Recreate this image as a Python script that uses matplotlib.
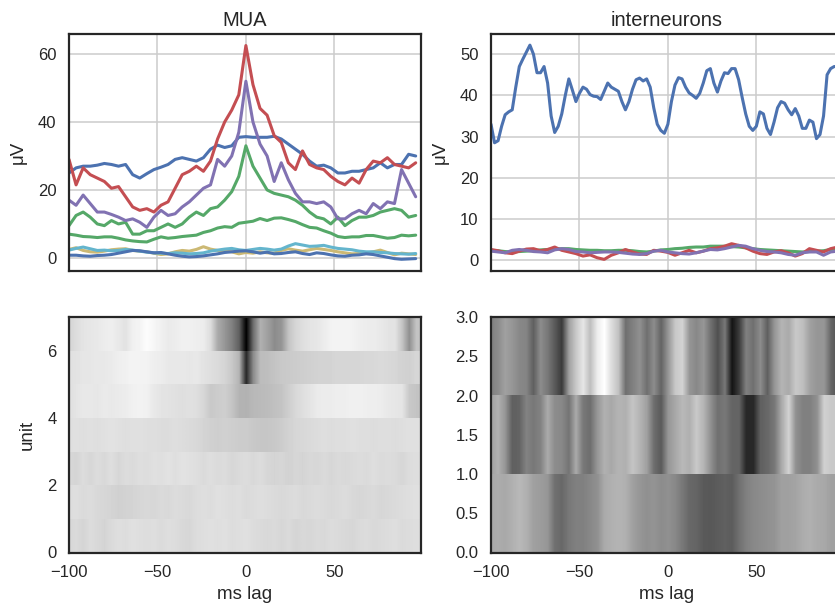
import numpy as np
import matplotlib
matplotlib.use("Agg")
import matplotlib.pyplot as plt

plt.rcParams["font.family"] = ["Liberation Sans", "DejaVu Sans"]

# ---------------------------------------------------------------- data
lag_ms = np.arange(-100, 100, 4)        # 4 ms lag bins
lag_ms_fine = np.arange(-100, 100, 2)   # 2 ms lag bins

# MUA channels, cross-correlogram amplitude (uV)
mua_ch0 = [25, 26.5, 27, 27, 27.3, 27.8, 27.5, 27, 27.5, 24.5, 23.5, 24.8, 26, 26.7,
           27.5, 29, 29.5, 29, 28.5, 29.5, 32, 33.2, 32.5, 33, 35.5, 35.7, 35.5, 35.5,
           35.5, 35.8, 35, 33.5, 32, 30.5, 28.5, 27, 27.3, 26.5, 25, 25, 25.5, 25.5, 26,
           26.5, 28, 26.5, 27.5, 27.5, 30.5, 30]
mua_ch1 = [9.5, 12.5, 13.5, 12, 10, 9.5, 11, 10, 10.5, 7, 7, 8, 8, 9, 10, 9, 10, 12,
           13.5, 12.5, 14.5, 15, 17, 19.5, 24, 33, 27, 23.5, 20, 19, 18.5, 18, 17, 15.5,
           13.5, 12, 11.5, 10, 12, 9.5, 11, 12, 12, 12.5, 13.5, 14, 14.5, 14, 12, 12.5]
mua_ch2 = [29, 21.5, 26.5, 24.5, 23.5, 22.5, 20.5, 21, 18, 15, 14, 14.5, 13.5, 15.5,
           16.5, 20.5, 24.5, 25.5, 27, 25.5, 28.5, 35, 40, 43.5, 48, 62.5, 51, 44, 42,
           36, 34, 28, 26, 31.5, 27.5, 26.5, 26, 24, 22.5, 21.5, 23.5, 22, 26, 28.5, 28,
           29.5, 27.5, 27, 26.5, 28]
mua_ch3 = [17, 15.5, 18.5, 16, 13.5, 13.5, 12.8, 12, 11, 11.5, 10.5, 9, 12, 14, 12.5,
           13, 15, 16.5, 18.5, 20.5, 21.5, 29, 27, 30, 37, 52, 40, 33.5, 30, 22.5, 28,
           23, 19, 16.5, 16.5, 16, 16.5, 15, 11.5, 11.5, 13, 14, 13, 16, 14.5, 16.5, 16,
           26, 22, 18]
mua_ch4 = [2.5, 3, 2.2, 1.8, 1.7, 2, 2.4, 2.6, 2.7, 2.2, 2, 1.8, 1.4, 1, 1.2, 1.8, 2.2,
           2, 2.5, 3.3, 2.6, 2.2, 2, 1.8, 1.2, 1.6, 1.4, 1.8, 1.5, 1.4, 2.2, 2.7, 2.3, 2,
           2.4, 2.8, 2.5, 2.2, 1.8, 1.5, 1.2, 1.3, 1.4, 1.8, 2.3, 1.6, 0.9, 1.4, 1.2, 1.0]
mua_ch5 = [2.3, 2.8, 3.2, 2.7, 2.2, 2.3, 2.1, 2.2, 2.5, 2.3, 2.0, 1.7, 1.5, 1.4, 1.3,
           1.5, 1.4, 1.2, 1.3, 1.5, 2.0, 2.3, 2.6, 2.8, 2.4, 2.2, 2.5, 2.8, 2.6, 2.3, 2.6,
           3.5, 4.2, 3.8, 3.4, 3.5, 3.7, 3.2, 2.8, 2.6, 2.4, 2.0, 1.8, 1.8, 1.6, 1.5, 1.3,
           1.2, 1.1, 1.3]
mua_ch6 = [0.8, 0.8, 0.6, 0.5, 0.7, 0.8, 1.0, 1.4, 1.8, 2.2, 2.1, 1.8, 1.5, 1.6, 1.2,
           0.8, 0.5, 0.3, 0.4, 0.6, 0.9, 1.2, 1.6, 1.8, 2.0, 2.1, 1.8, 1.4, 1.7, 1.2, 1.3,
           1.6, 1.8, 1.3, 1.0, 1.5, 1.3, 0.9, 0.6, 0.5, 0.8, 0.9, 1.2, 1.0, 0.6, 0.2, -0.2,
           -0.4, -0.3, -0.2]
mua_ch7 = [7, 6.7, 6.3, 6.2, 6, 6.2, 6.2, 5.8, 5.3, 5, 4.8, 4.7, 5.5, 6.2, 5.8, 6, 6.3,
           6.5, 6.7, 7.5, 8, 8.8, 9.2, 9, 10.2, 10.5, 10.8, 11.6, 11, 11.7, 11.8, 11.3,
           10.7, 9.8, 9, 8.8, 8, 7.3, 6.3, 6, 6.2, 6.2, 6.6, 6.6, 6.2, 5.8, 6, 6.7, 6.5,
           6.7]
mua_channels = [mua_ch0, mua_ch1, mua_ch2, mua_ch3, mua_ch4, mua_ch5, mua_ch6, mua_ch7]

# interneurons (uV); the first one on the 2 ms grid
int_u0 = [33, 28.5, 29, 32.5, 35.3, 36, 36.5, 42, 47, 48.8, 50.5, 52.2, 50, 45.5, 45.5,
          47, 43, 35, 31, 32.5, 35.5, 40, 44, 41.3, 38.5, 40.5, 42, 41.5, 40.2, 39.8,
          39.7, 39, 41, 43, 42, 41.5, 41, 38.5, 36.5, 38.5, 41.5, 43.8, 44.2, 43.5, 44,
          42, 37, 33, 31.5, 30.8, 33, 38.5, 42.5, 44.3, 44, 42, 40.6, 40, 39.3, 40.5, 43,
          46, 46.5, 43, 40.8, 43.5, 45.5, 45.3, 46.5, 46.5, 43.8, 39.5, 35.5, 32.5, 31.5,
          32.5, 36, 35.5, 32, 30.5, 33.5, 37, 38.5, 38.1, 36.5, 35.3, 36.8, 35, 32, 32,
          34, 33.5, 29.5, 30.5, 35, 45, 46.5, 47, 47, 46]
int_u1 = [2.4, 2.3, 2.1, 2.0, 2.1, 2.2, 2.3, 2.5, 2.6, 2.7, 2.8, 2.8, 2.6, 2.5, 2.4,
          2.4, 2.3, 2.3, 2.4, 2.4, 2.3, 2.1, 2.0, 2.2, 2.5, 2.6, 2.8, 2.9, 3.1, 3.2, 3.2,
          3.4, 3.4, 3.4, 3.3, 3.2, 3.0, 2.8, 2.6, 2.5, 2.4, 2.3, 2.2, 2.1, 2.0, 2.1, 2.2,
          2.3, 2.6, 2.8]
int_u2 = [2.6, 2.3, 1.8, 1.6, 2.2, 2.7, 2.8, 2.3, 2.6, 3.2, 2.4, 2.0, 1.6, 1.0, 1.3,
          0.6, 0.2, 1.2, 1.8, 2.6, 2.0, 1.5, 1.4, 2.4, 2.2, 1.9, 1.2, 1.8, 2.4, 1.8, 2.2,
          2.8, 3.0, 3.4, 4.0, 3.6, 3.0, 2.2, 1.6, 1.4, 2.0, 2.3, 1.8, 1.0, 1.6, 2.8, 2.4,
          2.0, 2.8, 3.2]
int_u3 = [2.2, 2.0, 1.8, 2.4, 2.6, 2.4, 2.1, 2.0, 1.8, 2.5, 2.8, 2.6, 2.1, 2.0, 1.8,
          1.9, 2.0, 2.0, 1.9, 1.7, 1.5, 1.4, 1.6, 2.2, 2.4, 2.0, 1.8, 1.6, 1.5, 1.8, 2.2,
          2.6, 2.5, 2.8, 3.2, 3.6, 3.4, 2.8, 2.4, 2.1, 2.0, 1.8, 1.4, 1.2, 1.8, 2.0, 2.0,
          1.2, 2.0, 2.2]

# per-unit maps (grey level, 0 = black, 255 = white), row 0 at the bottom
mua_map = [
    [214, 218, 212, 220, 216, 212, 218, 222, 220, 224, 222, 220, 222, 218, 222, 220,
     216, 214, 220, 222, 224, 222, 224, 220, 222, 224, 220, 218, 216, 218, 214, 218,
     212, 216, 214, 218, 216, 220, 218, 216, 214, 218, 220, 216, 218, 220, 222, 218,
     220, 222],
    [220, 222, 218, 220, 216, 214, 212, 208, 210, 212, 214, 216, 214, 218, 216, 220,
     218, 216, 220, 222, 220, 224, 222, 220, 222, 218, 220, 222, 220, 218, 216, 218,
     220, 216, 218, 220, 218, 216, 218, 220, 216, 214, 216, 218, 214, 216, 218, 220,
     222, 224],
    [216, 212, 220, 214, 220, 216, 222, 214, 220, 218, 222, 220, 224, 222, 226, 222,
     226, 224, 222, 218, 222, 218, 220, 214, 218, 220, 216, 220, 214, 212, 214, 210,
     214, 212, 216, 214, 218, 214, 218, 216, 218, 220, 218, 222, 218, 220, 218, 214,
     220, 222],
    [222, 224, 222, 224, 222, 224, 226, 224, 222, 224, 224, 222, 222, 220, 220, 222,
     220, 218, 216, 212, 208, 206, 208, 206, 204, 204, 200, 198, 198, 200, 204, 210,
     214, 216, 218, 220, 222, 220, 222, 222, 224, 222, 222, 220, 222, 222, 220, 222,
     224, 224],
    [222, 228, 232, 232, 230, 234, 232, 234, 236, 240, 242, 240, 232, 228, 226, 224,
     222, 224, 222, 214, 200, 204, 206, 196, 180, 178, 184, 186, 188, 192, 196, 206,
     216, 222, 228, 234, 236, 236, 238, 238, 240, 240, 238, 238, 236, 232, 230, 228,
     200, 196],
    [224, 226, 230, 230, 232, 232, 234, 238, 240, 244, 244, 242, 238, 236, 232, 232,
     232, 230, 232, 226, 222, 218, 212, 200, 180, 40, 140, 188, 190, 196, 200, 202,
     204, 206, 208, 210, 212, 212, 214, 214, 214, 214, 216, 216, 218, 216, 214, 210,
     208, 214],
    [212, 220, 228, 230, 232, 236, 238, 232, 226, 240, 244, 252, 246, 240, 234, 236,
     240, 240, 238, 236, 220, 170, 150, 128, 96, 0, 110, 176, 160, 140, 150, 196,
     214, 222, 228, 230, 236, 242, 244, 244, 242, 238, 236, 236, 232, 228, 226, 196,
     144, 196],
]
int_map = [
    [168, 172, 168, 176, 184, 176, 160, 156, 150, 112, 104, 120, 128, 128, 136, 144,
     170, 176, 180, 176, 160, 150, 144, 148, 140, 144, 136, 120, 104, 100, 90, 88,
     92, 96, 92, 112, 128, 136, 140, 144, 148, 160, 160, 164, 172, 176, 170, 168,
     160, 160],
    [160, 176, 150, 96, 100, 130, 120, 130, 170, 140, 136, 116, 170, 120, 110, 150,
     176, 168, 180, 176, 196, 180, 160, 110, 90, 150, 168, 184, 176, 200, 180, 144,
     112, 120, 100, 100, 40, 40, 96, 104, 120, 170, 210, 144, 128, 128, 144, 208,
     200, 200],
    [128, 140, 160, 150, 136, 132, 96, 140, 120, 90, 60, 160, 200, 230, 190, 236,
     255, 220, 192, 112, 128, 144, 112, 140, 100, 150, 200, 210, 150, 136, 150, 112,
     80, 120, 20, 60, 128, 112, 140, 96, 150, 180, 170, 200, 190, 160, 150, 150,
     100, 80],
]

palette = ["#4C72B0", "#55A868", "#C44E52", "#8172B2", "#CCB974", "#64B5CD"]

# ---------------------------------------------------------------- figure
W, H = 835, 609
fig = plt.figure(figsize=(W / 100, H / 100), dpi=100)


def box(left, top, right, bottom):
    return [left / W, 1 - bottom / H, (right - left) / W, (bottom - top) / H]


ax_mua = fig.add_axes(box(69, 34, 421, 270.5))
ax_int = fig.add_axes(box(491, 34, 843, 270.5))
ax_mua_map = fig.add_axes(box(69, 317, 421, 552.5))
ax_int_map = fig.add_axes(box(491, 317, 843, 552.5))

line_kw = dict(lw=2.2, solid_joinstyle="round", solid_capstyle="round")
for i, ys in enumerate(mua_channels):
    ax_mua.plot(lag_ms, ys, color=palette[i % len(palette)], **line_kw)
ax_int.plot(lag_ms_fine, int_u0, color=palette[0], **line_kw)
for i, ys in enumerate([int_u1, int_u2, int_u3], start=1):
    ax_int.plot(lag_ms, ys, color=palette[i], **line_kw)


def draw_map(ax, rows):
    half = (lag_ms[1] - lag_ms[0]) / 2
    for i, row in enumerate(rows):
        ax.imshow(np.asarray(row, float)[None, :], cmap="gray", vmin=0, vmax=255,
                  aspect="auto", interpolation="bilinear",
                  extent=(lag_ms[0] - half, lag_ms[-1] + half, i, i + 1))


draw_map(ax_mua_map, mua_map)
draw_map(ax_int_map, int_map)

ax_mua.set_ylim(-3.7, 65.9)
ax_mua.set_yticks([0, 20, 40, 60])
ax_int.set_ylim(-2.5, 54.9)
ax_int.set_yticks([0, 10, 20, 30, 40, 50])
ax_mua_map.set_ylim(0, 7)
ax_mua_map.set_yticks([0, 2, 4, 6])
ax_int_map.set_ylim(0, 3)
ax_int_map.set_yticks([0, 0.5, 1, 1.5, 2, 2.5, 3])
ax_int_map.set_yticklabels(["0.0", "0.5", "1.0", "1.5", "2.0", "2.5", "3.0"])

for ax in (ax_mua, ax_int, ax_mua_map, ax_int_map):
    ax.set_xlim(-100, 99)
    ax.set_xticks([-100, -50, 0, 50])
    ax.tick_params(length=0, pad=9, labelsize=12, colors="#262626")
    for s in ax.spines.values():
        s.set_color("#262626")
        s.set_linewidth(1.6)

for ax in (ax_mua, ax_int):
    ax.grid(True, color="#cccccc", lw=1.1)
    ax.set_axisbelow(True)
    ax.tick_params(labelbottom=False)
    ax.set_ylabel("μV", fontsize=13.5, color="#262626", labelpad=8)

ax_mua.set_title("MUA", fontsize=14.5, color="#262626")
ax_int.set_title("interneurons", fontsize=14.5, color="#262626")
ax_mua_map.set_ylabel("unit", fontsize=13.5, color="#262626", labelpad=8)
for ax in (ax_mua_map, ax_int_map):
    ax.set_xlabel("ms lag", fontsize=13.5, color="#262626")

fig.savefig("out.png", dpi=100)
